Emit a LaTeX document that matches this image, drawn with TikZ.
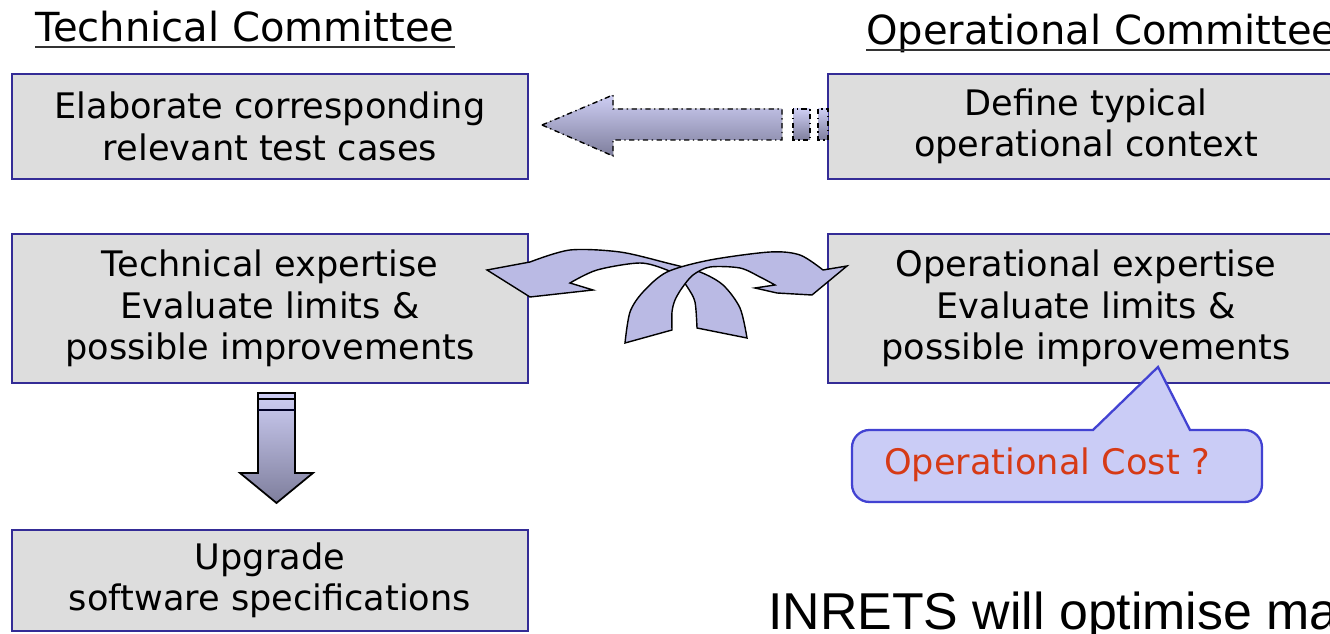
\documentclass[tikz,border=0pt]{standalone}
\usepackage{fontspec}
\setmainfont{DejaVu Sans}
\newfontfamily\arialfont{Liberation Sans}
\definecolor{boxfill}{RGB}{221,221,221}
\definecolor{boxline}{RGB}{52,44,150}
\definecolor{arrowlight}{RGB}{206,206,244}
\definecolor{arrowdark}{RGB}{126,126,156}
\definecolor{ribbon}{RGB}{186,186,228}
\definecolor{calloutfill}{RGB}{202,204,246}
\definecolor{calloutline}{RGB}{66,66,210}
\definecolor{costred}{RGB}{214,58,22}
\tikzset{
  task/.style={draw=boxline, fill=boxfill, line width=1.7pt, minimum width=10.32cm, align=center,
    font=\fontsize{20}{23.6}\selectfont},
  heading/.style={inner sep=0pt, anchor=base west, font=\fontsize{22.8}{27}\selectfont},
  uline/.style={line width=1.1pt, draw=black!80},
  blockarrow/.style={draw=black, line width=0.8pt, top color=arrowlight, bottom color=arrowdark},
  ribbonarrow/.style={draw=black, line width=0.8pt, fill=ribbon},
  callout/.style={draw=calloutline, line width=1.3pt, fill=calloutfill}
}
\begin{document}
\begin{tikzpicture}
    \useasboundingbox (0,0) rectangle (26.6,-12.68);
    \node[heading] (techhead) at (0.7,-0.84) {Technical Committee};
    \node[heading] (ophead) at (17.32,-0.9) {Operational Committee};
    \node[task, minimum height=2.1cm] (elab) at (5.4,-2.53) {Elaborate corresponding\\relevant test cases};
    \node[task, minimum height=2.1cm] (define) at (21.72,-2.53) {Define typical\\operational context};
    \node[task, minimum height=2.98cm] (techexp) at (5.4,-6.17) {Technical expertise\\Evaluate limits \&\\possible improvements};
    \node[task, minimum height=2.98cm] (opexp) at (21.72,-6.17) {Operational expertise\\Evaluate limits \&\\possible improvements};
    \node[task, minimum height=2.02cm] (upgrade) at (5.4,-11.61) {Upgrade\\software specifications};
    \node[inner sep=0pt, anchor=base west, font=\arialfont\fontsize{29.5}{34}\selectfont] (inrets) at (15.36,-12.6) {INRETS will optimise ma};

    \draw[uline] ([yshift=-0.1cm]techhead.base west) -- ([yshift=-0.1cm]techhead.base east);
    \draw[uline] ([yshift=-0.1cm]ophead.base west) -- ([yshift=-0.1cm]ophead.base east);

    \filldraw[blockarrow, dash dot] (10.84,-2.5) -- (12.26,-1.9) -- (12.26,-2.18) -- (15.64,-2.18) -- (15.64,-2.8) -- (12.26,-2.8) -- (12.26,-3.12) -- cycle;
    \filldraw[blockarrow, dash dot] (15.86,-2.18) rectangle (16.2,-2.8);
    \filldraw[blockarrow, dash dot] (16.36,-2.18) rectangle (16.56,-2.8);

    \filldraw[blockarrow, line width=1pt] (5.16,-7.86) -- (5.9,-7.86) -- (5.9,-9.46) -- (6.26,-9.46) -- (5.53,-10.06) -- (4.8,-9.46) -- (5.16,-9.46) -- cycle;
    \draw[line width=1pt] (5.16,-7.98) -- (5.9,-7.98);
    \draw[line width=1.4pt, draw=black!85!blue] (5.16,-8.2) -- (5.9,-8.2);

    \filldraw[ribbonarrow] plot[smooth] coordinates {(14.94,-6.76) (14.8,-6.16) (14.46,-5.7) (14.0,-5.44) (13.34,-5.26) (12.4,-5.04) (11.4,-5.0) (10.6,-5.24)}
        -- (9.74,-5.4) -- (10.6,-5.94) -- (11.86,-5.8)
        -- plot[smooth] coordinates {(11.4,-5.66) (11.94,-5.4) (12.8,-5.26) (13.34,-5.4) (13.6,-5.56) (13.76,-5.76) (13.9,-6.04) (13.94,-6.56)} -- cycle;
    \filldraw[ribbonarrow] plot[smooth] coordinates {(12.5,-6.86) (12.6,-6.24) (12.86,-5.84) (13.34,-5.44) (14.2,-5.2) (15.4,-5.04) (16.0,-5.1) (16.46,-5.4)}
        -- (16.94,-5.32) -- (16.24,-5.9) -- (15.54,-5.86) -- (15.1,-5.76)
        -- plot[smooth] coordinates {(15.5,-5.7) (15.2,-5.54) (14.8,-5.36) (14.2,-5.34) (13.86,-5.5) (13.64,-5.76) (13.5,-6.0) (13.44,-6.24) (13.44,-6.6)} -- cycle;

    \filldraw[callout] (17.04,-9.3) [rounded corners=0.35cm] -- (17.04,-8.6) -- (21.5,-8.6) [sharp corners] -- (21.86,-8.6) -- (23.16,-7.34) -- (23.8,-8.6) -- (24.2,-8.6) [rounded corners=0.35cm] -- (25.24,-8.6) -- (25.24,-10.04) -- (17.04,-10.04) -- cycle;
    \node[font=\fontsize{20}{24}\selectfont, text=costred] (cost) at (20.94,-9.3) {Operational Cost ?};
\end{tikzpicture}
\end{document}
